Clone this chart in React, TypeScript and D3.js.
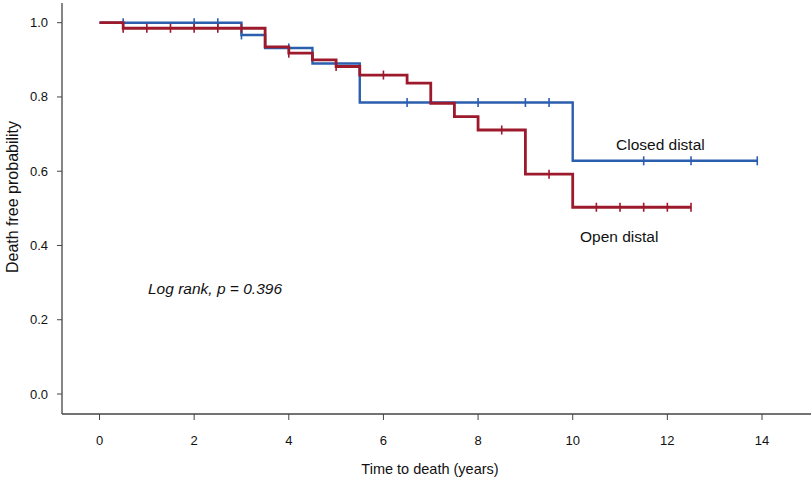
import * as d3 from "d3";

// Kaplan-Meier step data
const closedTimes = [0, 3, 3.5, 4.5, 5.5, 10];
const closedSurv = [1.0, 0.967, 0.932, 0.89, 0.785, 0.628];
const closedEnd = 13.9;
const closedCensor = [0.5, 2, 2.5, 3, 4, 6.5, 8, 9, 9.5, 11.5, 12.5, 13.9];

const openTimes = [0, 0.5, 3.5, 4, 4.5, 5, 5.5, 6.5, 7, 7.5, 8, 9, 10];
const openSurv = [1.0, 0.985, 0.935, 0.918, 0.9, 0.882, 0.859, 0.837, 0.783, 0.747, 0.711, 0.592, 0.503];
const openEnd = 12.5;
const openCensor = [0.5, 1, 1.5, 2, 2.5, 3, 4, 5, 6, 8.5, 9.5, 10.5, 11, 11.5, 12, 12.5];

const xTicks = [0, 2, 4, 6, 8, 10, 12, 14];
const yTicks = [0, 0.2, 0.4, 0.6, 0.8, 1.0];

const W = 812;
const H = 477;
const FONT = "'Liberation Sans', Arial, sans-serif";

const x = d3.scaleLinear().domain([0, 14]).range([99.5, 762]);
const y = d3.scaleLinear().domain([0, 1]).range([394, 22.7]);

const stepPoints = (times: number[], surv: number[], end: number): [number, number][] => {
  const pts: [number, number][] = times.map((t, i) => [t, surv[i]]);
  pts.push([end, surv[surv.length - 1]]);
  return pts;
};

const survAt = (times: number[], surv: number[], t: number) => {
  let s = surv[0];
  times.forEach((tt, i) => {
    if (tt <= t) s = surv[i];
  });
  return s;
};

const line = d3
  .line<[number, number]>()
  .x((d) => x(d[0]))
  .y((d) => y(d[1]))
  .curve(d3.curveStepAfter);

interface CurveProps {
  times: number[];
  surv: number[];
  end: number;
  censor: number[];
  color: string;
  width: number;
}

const Curve = (props: CurveProps) => {
  const pts = stepPoints(props.times, props.surv, props.end);
  return (
    <g>
      <path d={line(pts) as string} fill="none" stroke={props.color} strokeWidth={props.width} />
      {props.censor.map((t, i) => {
        const cy = y(survAt(props.times, props.surv, t));
        return (
          <line
            key={i}
            x1={x(t)}
            x2={x(t)}
            y1={cy - 4.5}
            y2={cy + 4.5}
            stroke={props.color}
            strokeWidth={1.6}
          />
        );
      })}
    </g>
  );
};

const App = () => {
  const axisY = 414;
  const axisX = 62;
  return (
    <svg
      width={W}
      height={H}
      style={{ position: "absolute", left: 0, top: 0, background: "#fff" }}
      fontFamily={FONT}
    >
      {/* axes */}
      <line x1={axisX} x2={axisX} y1={3} y2={axisY} stroke="#444" strokeWidth={1.3} />
      <line x1={axisX} x2={811} y1={axisY} y2={axisY} stroke="#444" strokeWidth={1.3} />
      {yTicks.map((t) => (
        <g key={t}>
          <line x1={axisX - 5} x2={axisX} y1={y(t)} y2={y(t)} stroke="#444" strokeWidth={1} />
          <text x={axisX - 14} y={y(t) + 4.5} textAnchor="end" fontSize={13} fill="#111">
            {t.toFixed(1)}
          </text>
        </g>
      ))}
      {xTicks.map((t) => (
        <g key={t}>
          <line x1={x(t)} x2={x(t)} y1={axisY} y2={axisY + 6} stroke="#444" strokeWidth={1} />
          <text x={x(t)} y={axisY + 31} textAnchor="middle" fontSize={13} fill="#111">
            {t}
          </text>
        </g>
      ))}
      <text x={430} y={474} textAnchor="middle" fontSize={14.5} fill="#111">
        Time to death (years)
      </text>
      <text
        transform={`translate(18,197) rotate(-90)`}
        textAnchor="middle"
        fontSize={16}
        fill="#111"
      >
        Death free probability
      </text>

      {/* curves */}
      <Curve
        times={closedTimes}
        surv={closedSurv}
        end={closedEnd}
        censor={closedCensor}
        color="#2b5fae"
        width={2.4}
      />
      <Curve
        times={openTimes}
        surv={openSurv}
        end={openEnd}
        censor={openCensor}
        color="#9c1a2c"
        width={2.8}
      />

      {/* annotations */}
      <text x={616} y={150} fontSize={15.5} fill="#111">
        Closed distal
      </text>
      <text x={580} y={242} fontSize={15.5} fill="#111">
        Open distal
      </text>
      <text x={148} y={294} fontSize={15.5} fontStyle="italic" fill="#111">
        Log rank, p = 0.396
      </text>
    </svg>
  );
};

export default App;
